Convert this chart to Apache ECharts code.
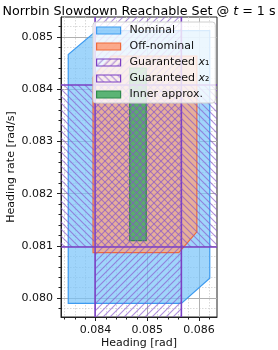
<!DOCTYPE html>
<html>
<head>
<meta charset="utf-8">
<script src="https://cdn.jsdelivr.net/npm/echarts@6/dist/echarts.min.js"></script>
<style>html,body{margin:0;padding:0;background:#fff}#c{width:278px;height:350px}</style>
</head>
<body>
<div id="c"></div>
<script>
// ---- data ----
var nominalHeading = [0.08347, 0.08566, 0.08621, 0.08621, 0.08402, 0.08347];
var nominalRate    = [0.07990, 0.07990, 0.08038, 0.08512, 0.08512, 0.08466];
var offHeading = [0.08395, 0.08561, 0.08596, 0.08596, 0.08430, 0.08395];
var offRate    = [0.08087, 0.08087, 0.08127, 0.08463, 0.08463, 0.08423];
var innerHeading = [0.08466, 0.08498];
var innerRate    = [0.08110, 0.08440];
var guaranteedX1 = [0.08399, 0.08566];   // heading interval
var guaranteedX2 = [0.08098, 0.08408];   // heading-rate interval
var xMajorTicks = [0.084, 0.085, 0.086];
var yMajorTicks = [0.080, 0.081, 0.082, 0.083, 0.084, 0.085];
var xMinorTicks = [0.0834, 0.0836, 0.0838, 0.0842, 0.0844, 0.0846, 0.0848, 0.0852, 0.0854, 0.0856, 0.0858, 0.0862];
var yMinorTicks = [0.0798, 0.0802, 0.0804, 0.0806, 0.0808, 0.0812, 0.0814, 0.0816, 0.0818, 0.0822, 0.0824, 0.0826, 0.0828,
                   0.0832, 0.0834, 0.0836, 0.0838, 0.0842, 0.0844, 0.0846, 0.0848, 0.0852];
var xLim = [0.08333, 0.08635];
var yLim = [0.07964, 0.08538];

function hatch(dir, color, s) {
  var c = document.createElement('canvas');
  c.width = s; c.height = s;
  var ctx = c.getContext('2d');
  ctx.strokeStyle = color; ctx.lineWidth = 1.1;
  ctx.beginPath();
  for (var k = -1; k <= 1; k++) {
    if (dir === '/') { ctx.moveTo(k * s - 1, s + 1); ctx.lineTo(k * s + s + 1, -1); }
    else { ctx.moveTo(k * s - 1, -1); ctx.lineTo(k * s + s + 1, s + 1); }
  }
  ctx.stroke();
  return c;
}
var hatchColor = 'rgba(135,85,205,0.65)';
var patX1 = { image: hatch('/', hatchColor, 7), repeat: 'repeat' };
var patX2 = { image: hatch('\\', hatchColor, 7), repeat: 'repeat' };
var purple = '#7b3fc4';

var FONT = 'DejaVu Sans';
var FS = 11;

function polySeries(name, hx, hy, fill, stroke, z) {
  var pts = hx.map(function (v, i) { return [v, hy[i]]; });
  return {
    name: name, type: 'custom', z: z, silent: true,
    itemStyle: { color: fill, borderColor: stroke },
    data: pts,
    renderItem: function (params, api) {
      if (params.dataIndex !== 0) return null;
      return {
        type: 'polygon',
        shape: { points: pts.map(function (p) { return api.coord(p); }) },
        style: { fill: fill, stroke: stroke, lineWidth: 1.2 }
      };
    }
  };
}

function bandSeries(name, range, vertical, pat, z) {
  return {
    name: name, type: 'custom', z: z, silent: true,
    itemStyle: { color: pat, borderColor: purple },
    data: [vertical ? [range[0], yLim[0]] : [xLim[0], range[0]]],
    renderItem: function (params, api) {
      var cs = params.coordSys;
      var a, b, rect, l1, l2;
      if (vertical) {
        a = api.coord([range[0], yLim[0]])[0];
        b = api.coord([range[1], yLim[0]])[0];
        rect = { x: a, y: cs.y, width: b - a, height: cs.height };
        l1 = { x1: a, y1: cs.y, x2: a, y2: cs.y + cs.height };
        l2 = { x1: b, y1: cs.y, x2: b, y2: cs.y + cs.height };
      } else {
        a = api.coord([xLim[0], range[1]])[1];
        b = api.coord([xLim[0], range[0]])[1];
        rect = { x: cs.x, y: a, width: cs.width, height: b - a };
        l1 = { x1: cs.x, y1: a, x2: cs.x + cs.width, y2: a };
        l2 = { x1: cs.x, y1: b, x2: cs.x + cs.width, y2: b };
      }
      return {
        type: 'group',
        children: [
          { type: 'rect', shape: rect, style: { fill: pat, stroke: null } },
          { type: 'line', shape: l1, style: { stroke: purple, lineWidth: 1.6 } },
          { type: 'line', shape: l2, style: { stroke: purple, lineWidth: 1.6 } }
        ]
      };
    }
  };
}

var chart = echarts.init(document.getElementById('c'), null, { renderer: 'canvas' });
var tickFmt = function (v) { return v.toFixed(3); };
var labelStyle = { fontFamily: FONT, fontSize: FS, color: '#111' };

chart.setOption({
  animation: false,
  backgroundColor: '#fff',
  textStyle: { fontFamily: FONT },
  title: {
    text: 'Norrbin Slowdown Reachable Set @ {i|t} = 1 s',
    left: 'center', top: 0,
    textStyle: { fontFamily: FONT, fontSize: 12.7, fontWeight: 'normal', color: '#000',
      rich: { i: { fontFamily: FONT, fontStyle: 'italic', fontSize: 12.7, color: '#000' } } }
  },
  grid: { left: 61, right: 61, top: 17, bottom: 33, outerBoundsMode: 'none', containLabel: false,
    show: true, borderColor: '#222', borderWidth: 1, backgroundColor: 'transparent' },
  legend: {
    orient: 'vertical', left: 93, top: 22,
    padding: [3, 6, 3, 3],
    itemWidth: 24, itemHeight: 7, itemGap: 5,
    backgroundColor: 'rgba(255,255,255,0.8)', borderColor: '#d0d0d0', borderWidth: 1, borderRadius: 3,
    z: 20,
    textStyle: { fontFamily: FONT, fontSize: FS, color: '#111', padding: [0, 0, 0, 4],
      rich: { i: { fontFamily: FONT, fontStyle: 'italic', fontSize: FS, color: '#111' } } },
    formatter: function (n) {
      if (n === 'Guaranteed x1') return 'Guaranteed {i|x}₁';
      if (n === 'Guaranteed x2') return 'Guaranteed {i|x}₂';
      return n;
    },
    data: [
      { name: 'Nominal', icon: 'rect', itemStyle: { color: 'rgba(120,195,250,0.75)', borderColor: '#3d9bf0', borderWidth: 1.2 } },
      { name: 'Off-nominal', icon: 'rect', itemStyle: { color: 'rgba(255,150,110,0.8)', borderColor: '#f06a3a', borderWidth: 1.2 } },
      { name: 'Guaranteed x1', icon: 'rect', itemStyle: { color: patX1, borderColor: purple, borderWidth: 1.2 } },
      { name: 'Guaranteed x2', icon: 'rect', itemStyle: { color: patX2, borderColor: purple, borderWidth: 1.2 } },
      { name: 'Inner approx.', icon: 'rect', itemStyle: { color: 'rgba(70,172,100,0.88)', borderColor: '#2e8a4a', borderWidth: 1.2 } }
    ]
  },
  xAxis: [{
    type: 'value', min: xLim[0], max: xLim[1], position: 'bottom',
    name: 'Heading [rad]', nameLocation: 'middle', nameGap: 21, nameMoveOverlap: false,
    nameTextStyle: labelStyle,
    axisLine: { show: true, onZero: false, lineStyle: { color: '#222' } },
    axisTick: { show: true, length: 4, lineStyle: { color: '#222' }, customValues: xMajorTicks },
    axisLabel: Object.assign({ margin: 8, formatter: tickFmt, customValues: xMajorTicks }, labelStyle),
    splitLine: { show: true, lineStyle: { color: '#b0b0b0', width: 1 } }
  }, {
    type: 'value', min: xLim[0], max: xLim[1], position: 'bottom',
    axisLine: { show: false },
    axisTick: { show: true, length: 2.5, lineStyle: { color: '#222' }, customValues: xMinorTicks },
    axisLabel: { show: false },
    splitLine: { show: true, lineStyle: { color: '#cfcfcf', width: 0.8, type: [1.5, 1.5] } }
  }],
  yAxis: [{
    type: 'value', min: yLim[0], max: yLim[1], position: 'left',
    name: 'Heading rate [rad/s]', nameLocation: 'middle', nameGap: 44, nameMoveOverlap: false,
    nameTextStyle: labelStyle,
    axisLine: { show: true, onZero: false, lineStyle: { color: '#222' } },
    axisTick: { show: true, length: 4, lineStyle: { color: '#222' }, customValues: yMajorTicks },
    axisLabel: Object.assign({ margin: 8, formatter: tickFmt, customValues: yMajorTicks }, labelStyle),
    splitLine: { show: true, lineStyle: { color: '#b0b0b0', width: 1 } }
  }, {
    type: 'value', min: yLim[0], max: yLim[1], position: 'left',
    axisLine: { show: false },
    axisTick: { show: true, length: 2.5, lineStyle: { color: '#222' }, customValues: yMinorTicks },
    axisLabel: { show: false },
    splitLine: { show: true, lineStyle: { color: '#cfcfcf', width: 0.8, type: [1.5, 1.5] } }
  }],
  series: [
    polySeries('Nominal', nominalHeading, nominalRate, 'rgba(120,195,250,0.7)', '#3d9bf0', 2),
    polySeries('Off-nominal', offHeading, offRate, 'rgba(248,165,130,0.8)', '#f06a3a', 3),
    polySeries('Inner approx.', [innerHeading[0], innerHeading[1], innerHeading[1], innerHeading[0]],
      [innerRate[0], innerRate[0], innerRate[1], innerRate[1]], 'rgba(70,172,100,0.88)', '#2e8a4a', 4),
    bandSeries('Guaranteed x1', guaranteedX1, true, patX1, 5),
    bandSeries('Guaranteed x2', guaranteedX2, false, patX2, 6)
  ]
});
</script>
</body>
</html>
